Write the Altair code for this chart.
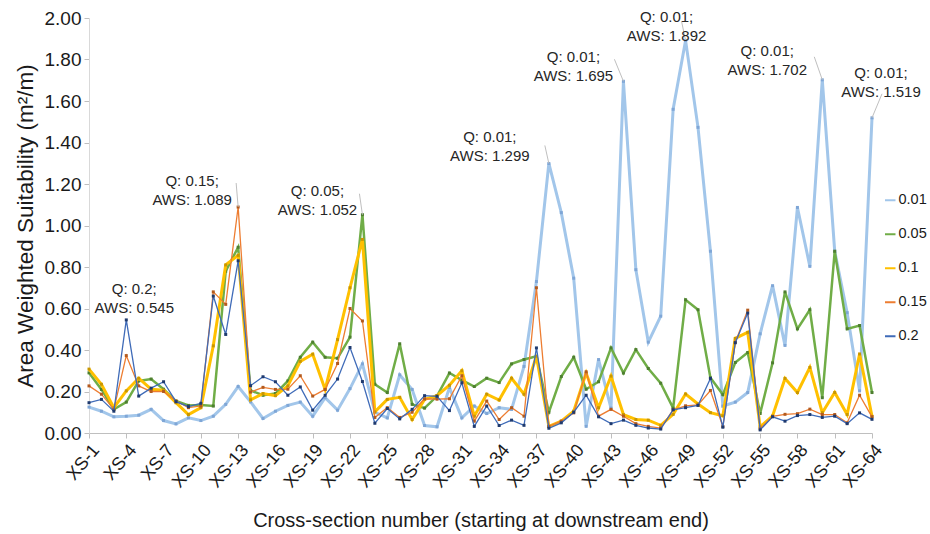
import altair as alt
import pandas as pd

categories = [f"XS-{i}" for i in range(1, 65)]
tick_labels = [f"XS-{i}" for i in range(1, 65, 3)]
q_levels = ["0.01", "0.05", "0.1", "0.15", "0.2"]

aws_q001 = [0.125, 0.105, 0.078, 0.081, 0.086, 0.114, 0.060, 0.044, 0.073, 0.060,
            0.081, 0.138, 0.224, 0.150, 0.070, 0.105, 0.133, 0.149, 0.081, 0.170,
            0.110, 0.214, 0.333, 0.100, 0.073, 0.280, 0.210, 0.036, 0.030, 0.219,
            0.073, 0.130, 0.094, 0.122, 0.114, 0.321, 0.730, 1.299, 1.062, 0.746,
            0.032, 0.354, 0.120, 1.695, 0.787, 0.438, 0.563, 1.560, 1.892, 1.473,
            0.876, 0.130, 0.149, 0.195, 0.478, 0.710, 0.422, 1.087, 0.803, 1.702,
            0.876, 0.580, 0.203, 1.519]
aws_q005 = [0.290, 0.210, 0.114, 0.149, 0.251, 0.260, 0.211, 0.154, 0.133, 0.135,
            0.130, 0.780, 0.895, 0.205, 0.182, 0.190, 0.251, 0.365, 0.438, 0.365,
            0.360, 0.462, 1.052, 0.235, 0.195, 0.430, 0.138, 0.120, 0.178, 0.289,
            0.255, 0.224, 0.264, 0.243, 0.333, 0.354, 0.370, 0.100, 0.272, 0.365,
            0.211, 0.247, 0.410, 0.289, 0.402, 0.311, 0.240, 0.120, 0.642, 0.594,
            0.266, 0.185, 0.340, 0.388, 0.094, 0.338, 0.680, 0.502, 0.594, 0.170,
            0.876, 0.502, 0.518, 0.195]
aws_q010 = [0.308, 0.235, 0.122, 0.203, 0.264, 0.211, 0.206, 0.146, 0.089, 0.122,
            0.420, 0.810, 0.856, 0.160, 0.190, 0.180, 0.227, 0.345, 0.380, 0.210,
            0.450, 0.700, 0.933, 0.102, 0.162, 0.172, 0.065, 0.162, 0.180, 0.230,
            0.300, 0.081, 0.187, 0.159, 0.264, 0.187, 0.370, 0.032, 0.057, 0.105,
            0.289, 0.122, 0.274, 0.089, 0.065, 0.062, 0.037, 0.090, 0.188, 0.140,
            0.098, 0.083, 0.456, 0.485, 0.030, 0.082, 0.263, 0.195, 0.316, 0.098,
            0.195, 0.089, 0.381, 0.080]
aws_q015 = [0.227, 0.187, 0.114, 0.373, 0.227, 0.200, 0.200, 0.154, 0.122, 0.130,
            0.680, 0.620, 1.089, 0.197, 0.220, 0.210, 0.211, 0.276, 0.178, 0.210,
            0.335, 0.600, 0.540, 0.075, 0.122, 0.075, 0.100, 0.165, 0.163, 0.165,
            0.276, 0.057, 0.154, 0.065, 0.122, 0.081, 0.700, 0.032, 0.057, 0.097,
            0.295, 0.081, 0.114, 0.081, 0.045, 0.032, 0.024, 0.112, 0.131, 0.135,
            0.205, 0.031, 0.438, 0.592, 0.020, 0.080, 0.090, 0.093, 0.115, 0.089,
            0.089, 0.049, 0.182, 0.078]
aws_q020 = [0.146, 0.162, 0.105, 0.545, 0.178, 0.216, 0.247, 0.151, 0.127, 0.143,
            0.660, 0.475, 0.830, 0.228, 0.271, 0.247, 0.182, 0.222, 0.110, 0.182,
            0.260, 0.412, 0.248, 0.047, 0.118, 0.068, 0.114, 0.180, 0.177, 0.108,
            0.242, 0.032, 0.130, 0.036, 0.062, 0.037, 0.410, 0.023, 0.049, 0.100,
            0.182, 0.078, 0.045, 0.062, 0.037, 0.024, 0.019, 0.112, 0.122, 0.133,
            0.263, 0.028, 0.435, 0.578, 0.015, 0.078, 0.057, 0.084, 0.089, 0.075,
            0.081, 0.045, 0.097, 0.066]

series_values = [aws_q001, aws_q005, aws_q010, aws_q015, aws_q020]

ann_xs = ["XS-4", "XS-13", "XS-23", "XS-38", "XS-44", "XS-49", "XS-60", "XS-64"]
ann_q = ["0.2", "0.15", "0.05", "0.01", "0.01", "0.01", "0.01", "0.01"]
ann_aws = [0.545, 1.089, 1.052, 1.299, 1.695, 1.892, 1.702, 1.519]

# styles
line_colors = ["#A2C6EA", "#70AD47", "#FFC000", "#ED7D31", "#3F6BB8"]
marker_colors = ["#7FA6D6", "#4E7F30", "#C99700", "#B35A1E", "#1F3A6E"]
line_widths = [3, 2.5, 3, 1.3, 1.3]
# label offsets (dx, dy) and leader end offsets
label_offsets = [(8, -31), (-46, -26), (-45, -24), (-59, -26), (-50, -24), (-19, -23), (-55, -29), (9, -45)]
leader_offsets = [None, (-2, -24), (-3, -21), (-4, -18), (-9, -22), (-4, -19), (-8, -23), (10, -24)]

FONT = "Liberation Sans"

rows = []
for q, vals in zip(q_levels, series_values):
    for xs, v in zip(categories, vals):
        rows.append({"XS": xs, "Q": q, "AWS": v})
df = pd.DataFrame(rows)

x_enc = alt.X(
    "XS:N",
    sort=categories,
    scale=alt.Scale(type="point", padding=0),
    axis=alt.Axis(
        values=tick_labels,
        labelAngle=-50,
        labelAlign="right",
        labelBaseline="top",
        labelFontSize=18,
        labelColor="#1a1a1a",
        labelPadding=3,
        tickSize=5,
        tickColor="#BFBFBF",
        domainColor="#BFBFBF",
        title="Cross-section number (starting at downstream end)",
        titleFontSize=20,
        titleFontWeight="normal",
        titleColor="#1a1a1a",
        titleY=87,
        titleBaseline="middle",
    ),
)
y_enc = alt.Y(
    "AWS:Q",
    scale=alt.Scale(domain=[0, 2], nice=False),
    axis=alt.Axis(
        values=[round(0.2 * i, 1) for i in range(11)],
        format=".2f",
        labelFontSize=19,
        labelColor="#1a1a1a",
        labelPadding=3,
        tickSize=5,
        tickColor="#BFBFBF",
        domainColor="#D9D9D9",
        grid=False,
        title="Area Weighted Suitability (m²/m)",
        titleFontSize=22.5,
        titleFontWeight="normal",
        titleColor="#1a1a1a",
        titleX=-64,
        titleY=207.5,
        titleAngle=270,
        titleAlign="center",
        titleBaseline="middle",
    ),
)

color_enc = alt.Color(
    "Q:N",
    scale=alt.Scale(domain=q_levels, range=line_colors),
    sort=q_levels,
    legend=alt.Legend(
        title=None,
        orient="none",
        legendX=794,
        legendY=175,
        symbolType="stroke",
        symbolSize=110,
        symbolStrokeWidth=2,
        labelFontSize=14.5,
        labelColor="#1a1a1a",
        labelOffset=1,
        rowPadding=19,
        padding=0,
    ),
)

base = alt.Chart(df)
layers = []
for q, w, mc in zip(q_levels, line_widths, marker_colors):
    sub = base.transform_filter(alt.datum.Q == q)
    layers.append(sub.mark_line(strokeWidth=w).encode(x=x_enc, y=y_enc, color=color_enc))
    layers.append(
        sub.mark_point(filled=True, size=9, opacity=1, color=mc, shape="square").encode(x=x_enc, y=y_enc)
    )

ann_df = pd.DataFrame({"XS": ann_xs, "Q": ann_q, "AWS": ann_aws})
ann_df["label"] = [f"Q: {q};\nAWS: {a:.3f}" for q, a in zip(ann_q, ann_aws)]

for i in range(len(ann_xs)):
    one = alt.Chart(ann_df.iloc[[i]])
    lo = leader_offsets[i]
    if lo is not None:
        layers.append(
            one.mark_rule(color="#BFBFBF", strokeWidth=1, x2Offset=lo[0], y2Offset=lo[1]).encode(
                x=alt.X("XS:N", sort=categories),
                y=alt.Y("AWS:Q"),
                x2="XS:N",
                y2="AWS:Q",
            )
        )
    dx, dy = label_offsets[i]
    layers.append(
        one.mark_text(
            dx=dx, dy=dy, lineBreak="\n", fontSize=15, font=FONT, color="#262626",
            align="center", baseline="middle", lineHeight=19,
        ).encode(x=alt.X("XS:N", sort=categories), y=alt.Y("AWS:Q"), text="label:N")
    )

chart = (
    alt.layer(*layers)
    .properties(
        width=783,
        height=415,
        autosize=alt.AutoSizeParams(type="none"),
        padding={"left": 89, "top": 18, "right": 58, "bottom": 101},
        background="white",
    )
    .configure_view(stroke=None)
    .configure_axis(labelFont=FONT, titleFont=FONT)
    .configure_legend(labelFont=FONT)
    .configure_text(font=FONT)
)

chart.save("out.html", embed_options={"renderer": "svg", "actions": False})
